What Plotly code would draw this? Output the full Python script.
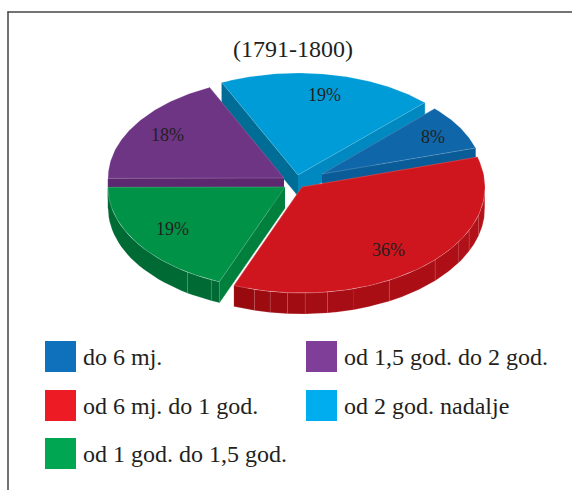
import numpy as np
import plotly.graph_objects as go

categories = ["do 6 mj.", "od 6 mj. do 1 god.", "od 1 god. do 1,5 god.", "od 1,5 god. do 2 god.", "od 2 god. nadalje"]
values = [8.0, 35.6, 18.9, 18.1, 19.4]
percent_labels = ["8%", "36%", "19%", "18%", "19%"]
title_text = "(1791-1800)"

legend_colors = ["#0f71bb", "#ed1c24", "#00a651", "#7f3f98", "#00aeef"]
top_colors = ["#0f66a8", "#cf161e", "#009247", "#6e3585", "#009cd8"]
edge_colors = ["#0a5c98", "#b00f16", "#007f3d", "#5d2870", "#0089c0"]
back_edge_colors = ["#0a5c98", "#b00f16", "#007f3d", "#5d2870", "#006d96"]
wall_from = ["#0a5a94", "#990a0f", "#006a34", "#5d2870", "#0089c0"]
wall_to = ["#0a5a94", "#b8121a", "#006a34", "#5d2870", "#0089c0"]

# slice apex positions (explosion) and per-slice perspective radii, in page pixels
apex = [(322, 174), (302, 187), (285, 187), (284, 178), (298, 175)]
rx = [160, 183, 177, 176, 180]
ry = [92, 106, 102, 100, 102]
DEPTH = 21
START = 45.2
seams = {
    1: [255, 260, 265.5, 271, 278, 286.5, 298.5, 316.7, 329, 336, 345, 355],
    2: [236.6, 245.4],
}
label_pos = [(433, 137), (388, 250), (172, 229), (167, 135), (324, 95)]
draw_order = [4, 0, 3, 2, 1]

# angles run clockwise from START
shares = np.array(values) / sum(values) * 360
ends = START - np.cumsum(shares) + 360
starts = ends + shares
ends[0] -= 360; starts[0] -= 360


def pt(i, deg, dz=0):
    a = np.radians(deg)
    return apex[i][0] + rx[i] * np.cos(a), apex[i][1] - ry[i] * np.sin(a) + dz


def mix(c1, c2, t):
    a = [int(c1[k:k + 2], 16) for k in (1, 3, 5)]
    b = [int(c2[k:k + 2], 16) for k in (1, 3, 5)]
    return "#%02x%02x%02x" % tuple(round(p + (q - p) * t) for p, q in zip(a, b))


fig = go.Figure()


def poly(xs, ys, fill, line=None, w=0.0):
    fig.add_trace(go.Scatter(
        x=list(xs), y=list(ys), mode="lines", fill="toself", fillcolor=fill,
        line=dict(color=line or fill, width=w if line else 0.4),
        hoverinfo="skip", showlegend=False))


for i in draw_order:
    a0, a1 = ends[i], starts[i]
    ax, ay = apex[i]
    # radial faces
    for deg, col in ((a1, back_edge_colors[i]), (a0, edge_colors[i])):
        x, y = pt(i, deg)
        poly([ax, x, x, ax], [ay, y, y + DEPTH, ay + DEPTH], col)
    # outer wall, split at seams, only the front half is visible
    cuts = [a0] + [s for s in seams.get(i, []) if a0 < s < a1] + [a1]
    for k in range(len(cuts) - 1):
        t = np.linspace(cuts[k], cuts[k + 1], 24)
        t = t[np.sin(np.radians(t)) <= 0.02]
        if len(t) < 2:
            continue
        xs, ys = pt(i, t)
        xb, yb = pt(i, t[::-1], DEPTH)
        col = mix(wall_from[i], wall_to[i], k / max(1, len(cuts) - 2))
        poly(np.r_[xs, xb], np.r_[ys, yb], col, "rgba(255,255,255,0.28)" if len(cuts) > 2 else None, 0.5)
    # top
    t = np.linspace(a0, a1, 90)
    xs, ys = pt(i, t)
    poly(np.r_[ax, xs, ax], np.r_[ay, ys, ay], top_colors[i], "rgba(255,255,255,0.3)", 0.6)

ann = [dict(x=293, y=49, text=title_text, showarrow=False, font=dict(size=24))]
for i, lab in enumerate(percent_labels):
    ann.append(dict(x=label_pos[i][0], y=label_pos[i][1], text=lab, showarrow=False, font=dict(size=18)))

# legend: two columns of swatch + label
legend_slots = [(45, 341), (45, 390), (45, 438), (306, 341), (306, 390)]
shapes = [
    dict(type="line", x0=8, x1=8, y0=11.5, y1=490, line=dict(color="#444", width=1.5)),
    dict(type="line", x0=7.5, x1=572, y0=12, y1=12, line=dict(color="#444", width=1.5)),
]
for c, col, (lx, ly) in zip(categories, legend_colors, legend_slots):
    shapes.append(dict(type="rect", x0=lx, x1=lx + 31, y0=ly, y1=ly + 31, fillcolor=col, line=dict(width=0)))
    ann.append(dict(x=lx + 35.5, y=ly + 16, text=c, showarrow=False, xanchor="left", font=dict(size=24)))

fig.update_layout(
    width=572, height=490, margin=dict(l=0, r=0, t=0, b=0),
    paper_bgcolor="white", plot_bgcolor="white", showlegend=False,
    font=dict(family="Liberation Serif", color="#231f20"),
    xaxis=dict(range=[0, 572], visible=False, fixedrange=True),
    yaxis=dict(range=[490, 0], visible=False, fixedrange=True),
    shapes=shapes, annotations=ann,
)
fig.write_html("out.html", config=dict(displayModeBar=False),
               post_script="document.body.style.margin='0';document.documentElement.style.overflow='hidden';")
